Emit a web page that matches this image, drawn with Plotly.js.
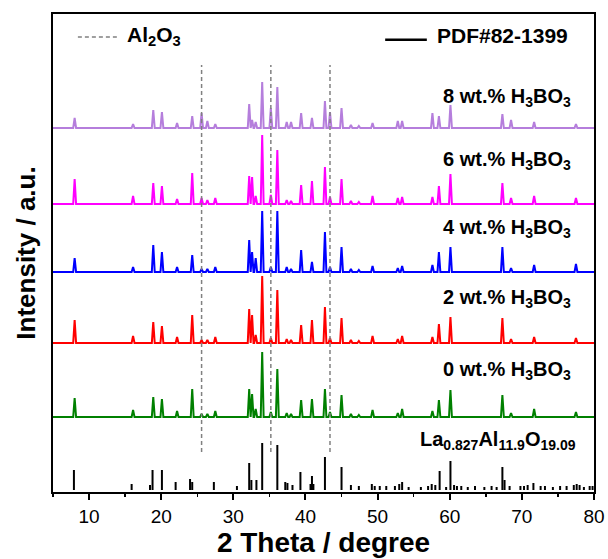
<!DOCTYPE html>
<html><head><meta charset="utf-8">
<script src="https://cdn.plot.ly/plotly-3.0.1.min.js"></script>
<style>html,body{margin:0;padding:0;background:#fff}#c{width:608px;height:559px}</style>
</head><body><div id="c"></div>
<script>
// ---- data ----
const peakPos = [8.0,16.1,18.9,20.1,22.2,24.3,25.6,26.4,27.5,32.2,32.6,33.1,34.0,35.2,36.1,37.4,38.0,39.4,40.9,42.7,43.4,45.0,46.3,47.4,49.3,52.8,53.4,57.6,58.5,60.1,67.3,68.5,71.7,77.5];
const int0 = [19,7,20,18,6,28,3,3,6,28,23,8,65,5,48,4,3,17,18,28,5,22,3,2,7,4,8,6,17,27,22,4,8,5];
const int2 = [23,7,21,17,6,28,3,3,6,34,28,8,67,5,53,4,3,18,23,36,5,25,3,2,7,4,7,6,19,26,25,4,6,5];
const int4 = [14,5,27,20,5,17,3,3,5,32,20,14,61,5,61,5,3,22,10,40,5,25,3,2,6,4,6,7,20,25,25,4,7,8];
const int6 = [25,8,21,18,5,31,6,4,6,28,27,8,69,9,54,4,3,19,23,37,7,25,3,2,8,6,7,7,18,30,21,6,8,6];
const int8 = [10,4,18,16,5,12,15,7,4,24,8,6,46,20,41,6,6,15,10,27,16,20,3,2,5,7,7,15,12,23,14,8,6,4];
const seriesNames = ["0 wt.% H<sub>3</sub>BO<sub>3</sub>","2 wt.% H<sub>3</sub>BO<sub>3</sub>","4 wt.% H<sub>3</sub>BO<sub>3</sub>","6 wt.% H<sub>3</sub>BO<sub>3</sub>","8 wt.% H<sub>3</sub>BO<sub>3</sub>"];
const seriesOffsets = [75,149,220,288,364];

const stickPos = [7.9,15.9,18.45,18.8,20.1,22.0,24.0,24.3,27.3,30.5,32.2,32.5,33.2,34.0,36.1,37.2,37.5,38.2,39.3,40.7,40.9,41.1,42.7,45.0,46.3,47.4,49.2,49.6,50.3,51.2,52.4,53.0,53.4,54.3,56.0,57.0,57.5,58.0,58.6,59.5,60.1,60.6,61.0,61.6,62.5,63.5,64.8,65.8,66.5,67.3,67.6,68.3,69.8,70.3,70.8,71.6,72.6,73.2,74.3,75.3,76.2,77.2,77.6,78.0,78.6,79.4,79.8];
const stickInt = [20,6,5,20,20,8,11,8,8,4,27,10,10,47,45,8,7,5,18,6,14,6,33,23,5,4,6,4,4,4,4,6,8,3,3,4,6,5,19,3,29,5,4,4,3,4,3,4,3,23,10,4,4,4,5,7,4,4,3,4,4,5,6,5,3,4,4];
const stickLabel = "La<sub>0.827</sub>Al<sub>11.9</sub>O<sub>19.09</sub>";

const al2o3Pos = [25.6,35.2,43.4];
const xTicks = [10,20,30,40,50,60,70,80];

// ---- build ----
const colors = ["#008000","#ff0000","#0000ff","#ff00ff","#b57edc"];
const allInt = [int0,int2,int4,int6,int8];
const hw = 0.2;
const traces = [];

// reference sticks
const sx=[], sy=[];
stickPos.forEach((p,i)=>{ sx.push(p,p,null); sy.push(2,2+stickInt[i],null); });
traces.push({x:sx,y:sy,mode:'lines',line:{color:'#000',width:2},hoverinfo:'skip',showlegend:false});

allInt.forEach((ints,k)=>{
  const off = seriesOffsets[k];
  const x=[5], y=[off];
  peakPos.forEach((p,i)=>{ x.push(p-hw,p,p+hw); y.push(off,off+ints[i],off); });
  x.push(80); y.push(off);
  traces.push({x:x,y:y,mode:'lines',line:{color:colors[k],width:2},name:seriesNames[k],showlegend:false});
});

// Al2O3 dashed lines
const dx=[], dy=[];
al2o3Pos.forEach(p=>{ dx.push(p,p,null); dy.push(40,427,null); });
traces.push({x:dx,y:dy,mode:'lines',line:{color:'#808080',width:1.5,dash:'4px,3px'},hoverinfo:'skip',showlegend:false});

const F = "Liberation Sans, Arial, sans-serif";
const labelY = [122,194,264,332,395];
const annotations = seriesNames.map((n,k)=>({xref:'paper',yref:'y',x:0.962,y:labelY[k],xanchor:'right',yanchor:'middle',text:'<b>'+n+'</b>',showarrow:false,font:{family:F,size:20,color:'#000'}}));
annotations.push({xref:'paper',yref:'y',x:0.97,y:52,xanchor:'right',yanchor:'middle',text:'<b>'+stickLabel+'</b>',showarrow:false,font:{family:F,size:20,color:'#000'}});
annotations.push({xref:'paper',yref:'paper',x:0.133,y:0.954,xanchor:'left',yanchor:'middle',text:'<b>Al<sub>2</sub>O<sub>3</sub></b>',showarrow:false,font:{family:F,size:21,color:'#000'}});
annotations.push({xref:'paper',yref:'paper',x:0.706,y:0.956,xanchor:'left',yanchor:'middle',text:'<b>PDF#82-1399</b>',showarrow:false,font:{family:F,size:21,color:'#000'}});

const shapes = [
  {type:'line',xref:'paper',yref:'paper',x0:0.046,x1:0.118,y0:0.952,y1:0.952,line:{color:'#808080',width:1.5,dash:'4px,3px'}},
  {type:'line',xref:'paper',yref:'paper',x0:0.614,x1:0.691,y0:0.946,y1:0.946,line:{color:'#000',width:2.5}}
];

const layout = {
  width:608,height:559,
  margin:{l:53,r:14,t:14,b:67},
  paper_bgcolor:'#fff',plot_bgcolor:'#fff',
  showlegend:false,
  xaxis:{range:[5,80],tickvals:xTicks,ticks:'outside',ticklen:6,tickwidth:2,tickcolor:'#000',
    minor:{dtick:5,ticks:'outside',ticklen:3,tickwidth:1.5,tickcolor:'#000'},
    showline:true,linewidth:2,linecolor:'#000',mirror:true,showgrid:false,zeroline:false,
    tickfont:{family:F,size:19,color:'#000'},
    title:{text:'<b>2 Theta / degree</b>',font:{family:F,size:28,color:'#000'},standoff:6}},
  yaxis:{range:[0,478],showticklabels:false,ticks:'',showline:true,linewidth:2,linecolor:'#000',mirror:true,showgrid:false,zeroline:false,
    title:{text:'<b>Intensity / a.u.</b>',font:{family:F,size:26,color:'#000'},standoff:8}},
  annotations:annotations,shapes:shapes
};
Plotly.newPlot('c',traces,layout,{staticPlot:true});
</script></body></html>
